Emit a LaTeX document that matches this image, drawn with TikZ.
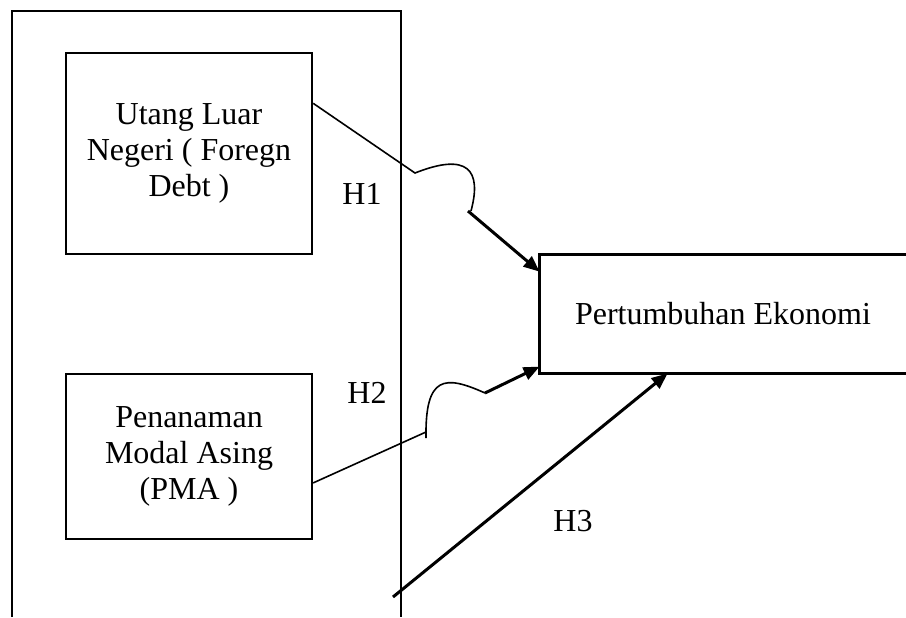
\documentclass[tikz,border=0pt]{standalone}
\usepackage{fontspec}
\setmainfont{Liberation Serif}
\usetikzlibrary{arrows.meta}

\begin{document}
\begin{tikzpicture}[x=0.5pt, y=-0.5pt,
		every node/.style={font=\fontsize{16}{18}\selectfont},
		box/.style={draw, line width=1.2pt, minimum width=123pt, align=center, inner sep=0pt},
		thinline/.style={line width=0.8pt},
		arr/.style={line width=1.5pt, -{Triangle[length=8pt,width=6.5pt]}}]
		\useasboundingbox (0,0) rectangle (906,617);
		% outer frame, open at the bottom
		\draw[line width=1.2pt] (12,617) -- (12,11) -- (401,11) -- (401,617);
		
		\node[box, minimum height=100.5pt] (ule) at (189,153.5) {Utang Luar\\Negeri ( Foregn\\Debt )};
		\node[box, minimum height=82.5pt] (pma) at (189,456.5) {Penanaman\\Modal Asing\\(PMA )};
		\node[minimum width=183pt, minimum height=59pt, inner sep=0pt] (pe) at (723,314) {Pertumbuhan Ekonomi};
		\draw[line width=1.2pt] (pe.north east) -- (pe.north west) -- (pe.south west) -- (pe.south east);
		
		\node (h1) at (362,194) {H1};
		\node (h2) at (367,393) {H2};
		\node (h3) at (573,521) {H3};
		
		\coordinate (h1a) at (415,173);
		\coordinate (h1b) at (471,211);
		\coordinate (h1c) at (468,211);
		\coordinate (h2a) at (426,432);
		\coordinate (h2b) at (426,438);
		\coordinate (h2c) at (485,393);
		\coordinate (h3a) at (393,597);
		
		\draw[thinline] (ule.22) -- (h1a) .. controls (468,152) and (482,170) .. (h1b);
		\draw[arr] (h1c) -- (pe.167);
		\draw[thinline] (pma.-12) -- (h2a);
		\draw[thinline] (h2b) .. controls (425,375) and (445,375) .. (h2c);
		\draw[arr] (h2c) -- (pe.196);
		\draw[arr] (h3a) -- (pe.227);
	\end{tikzpicture}
\end{document}
